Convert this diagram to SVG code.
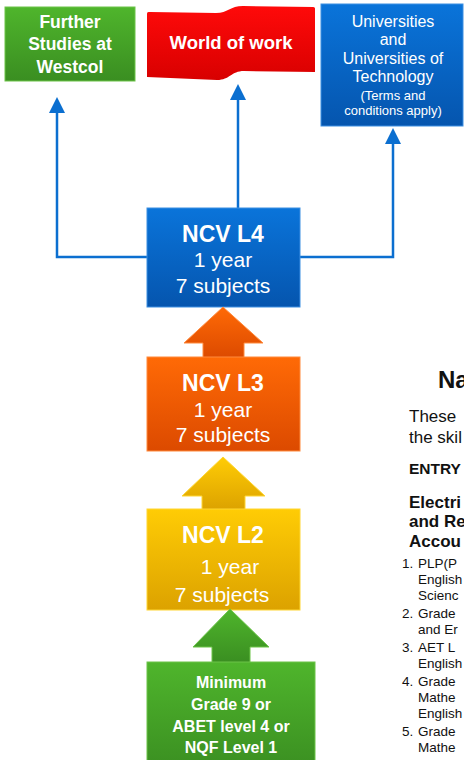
<svg xmlns="http://www.w3.org/2000/svg" width="464" height="760" viewBox="0 0 464 760">
<defs>
<linearGradient id="gGreen" x1="0" y1="0" x2="0" y2="1"><stop offset="0" stop-color="#4fb52c"/><stop offset="1" stop-color="#3a8e21"/></linearGradient>
<linearGradient id="gRed" x1="0" y1="0" x2="0" y2="1"><stop offset="0" stop-color="#ff0a0a"/><stop offset="1" stop-color="#d80000"/></linearGradient>
<linearGradient id="gBlue" x1="0" y1="0" x2="0" y2="1"><stop offset="0" stop-color="#0a74da"/><stop offset="1" stop-color="#0555ae"/></linearGradient>
<linearGradient id="gOrange" x1="0" y1="0" x2="0" y2="1"><stop offset="0" stop-color="#ff6a06"/><stop offset="1" stop-color="#dc4a00"/></linearGradient>
<linearGradient id="gYellow" x1="0" y1="0" x2="0" y2="1"><stop offset="0" stop-color="#ffcc05"/><stop offset="1" stop-color="#dca200"/></linearGradient>
<marker id="ah" markerUnits="userSpaceOnUse" markerWidth="18" markerHeight="16" viewBox="0 0 16 16" refX="1" refY="8" orient="auto">
<path d="M0,0 L16,8 L0,16 Z" fill="#0b6fd0"/>
</marker>
<style>
.t{font-family:"Liberation Sans",Arial,sans-serif;fill:#fff;text-anchor:middle}
.b{font-weight:bold}
.c{fill:none;stroke:#0b6fd0;stroke-width:2.5}
.r{font-family:"Liberation Sans",Arial,sans-serif;fill:#111}
</style>
</defs>

<g id="connectors">
<polyline class="c" points="147,257 57,257 57,112" marker-end="url(#ah)"/>
<line class="c" x1="238" y1="208" x2="238" y2="99" marker-end="url(#ah)"/>
<polyline class="c" points="300,257 393,257 393,143" marker-end="url(#ah)"/>
</g>

<g id="further-studies">
<rect x="5" y="7" width="130" height="74" fill="url(#gGreen)" stroke="#6cc449" stroke-width="1"/>
<text class="t b" font-size="17.5" x="70" y="28">Further</text>
<text class="t b" font-size="17.5" x="70" y="50">Studies at</text>
<text class="t b" font-size="17.5" x="70" y="73">Westcol</text>
</g>

<g id="world-of-work">
<path d="M147,14 C147,12 148,12 150,12 L216,13 C228,13 230,6 243,6 L313,7 C315,7 315,8 315,9 L315,72 L244,71 C231,71 230,80 217,80 L147,77 Z" fill="url(#gRed)"/>
<text class="t b" font-size="18.5" x="231" y="49">World of work</text>
</g>

<g id="universities">
<rect x="321" y="4" width="142" height="122" fill="url(#gBlue)" stroke="#3d8fe2" stroke-width="1"/>
<text class="t" font-size="16" x="393" y="27">Universities</text>
<text class="t" font-size="16" x="393" y="45">and</text>
<text class="t" font-size="16" x="393" y="64">Universities of</text>
<text class="t" font-size="16" x="393" y="82">Technology</text>
<text class="t" font-size="13" x="393" y="100">(Terms and</text>
<text class="t" font-size="13" x="393" y="115">conditions apply)</text>
</g>

<g id="ncv-l4">
<rect x="147" y="208" width="153" height="99" fill="url(#gBlue)" stroke="#3d8fe2" stroke-width="1"/>
<text class="t b" font-size="23" x="223" y="242">NCV L4</text>
<text class="t" font-size="21" x="223" y="267">1 year</text>
<text class="t" font-size="21" x="223" y="293">7 subjects</text>
</g>

<g id="ncv-l3">
<polygon points="223,307 263,343 244,343 244,358 203,358 203,343 184,343" fill="url(#gOrange)" stroke="#ff8a3d" stroke-width="1"/>
<rect x="147" y="357" width="153" height="94" fill="url(#gOrange)" stroke="#ff8a3d" stroke-width="1"/>
<text class="t b" font-size="23" x="223" y="391">NCV L3</text>
<text class="t" font-size="21" x="223" y="417">1 year</text>
<text class="t" font-size="21" x="223" y="442">7 subjects</text>
</g>

<g id="ncv-l2">
<polygon points="223,457 265,496 245,496 245,510 202,510 202,496 182,496" fill="url(#gYellow)" stroke="#ffd633" stroke-width="1"/>
<rect x="147" y="509" width="153" height="101" fill="url(#gYellow)" stroke="#ffd633" stroke-width="1"/>
<text class="t b" font-size="23" x="223" y="543">NCV L2</text>
<text class="t" font-size="21" x="230" y="574">1 year</text>
<text class="t" font-size="21" x="222" y="602">7 subjects</text>
</g>

<g id="entry">
<polygon points="230,609 269,647 250,647 250,663 212,663 212,647 193,647" fill="url(#gGreen)" stroke="#6cc449" stroke-width="1"/>
<rect x="147" y="662" width="168" height="110" fill="url(#gGreen)" stroke="#6cc449" stroke-width="1"/>
<text class="t b" font-size="16" x="231" y="688">Minimum</text>
<text class="t b" font-size="16" x="231" y="710">Grade 9 or</text>
<text class="t b" font-size="16" x="231" y="732">ABET level 4 or</text>
<text class="t b" font-size="16" x="231" y="753">NQF Level 1</text>
</g>

<g id="side-text">
<text class="r b" font-size="24" x="438" y="388">Na</text>
<text class="r" font-size="17" x="409" y="422">These</text>
<text class="r" font-size="17" x="409" y="443">the skil</text>
<text class="r b" font-size="15.5" x="409" y="474">ENTRY</text>
<text class="r b" font-size="17" x="409" y="508">Electri</text>
<text class="r b" font-size="17" x="409" y="527">and Re</text>
<text class="r b" font-size="17" x="409" y="547">Accou</text>
<g font-size="13.5">
<text class="r" x="402" y="568">1.</text><text class="r" x="418" y="568">PLP(P</text>
<text class="r" x="418" y="584">English</text>
<text class="r" x="418" y="600">Scienc</text>
<text class="r" x="402" y="618">2.</text><text class="r" x="418" y="618">Grade</text>
<text class="r" x="418" y="634">and Er</text>
<text class="r" x="402" y="652">3.</text><text class="r" x="418" y="652">AET L</text>
<text class="r" x="418" y="668">English</text>
<text class="r" x="402" y="686">4.</text><text class="r" x="418" y="686">Grade</text>
<text class="r" x="418" y="702">Mathe</text>
<text class="r" x="418" y="718">English</text>
<text class="r" x="402" y="736">5.</text><text class="r" x="418" y="736">Grade</text>
<text class="r" x="418" y="752">Mathe</text>
<text class="r" x="418" y="767">or a</text>
</g>
</g>
</svg>
